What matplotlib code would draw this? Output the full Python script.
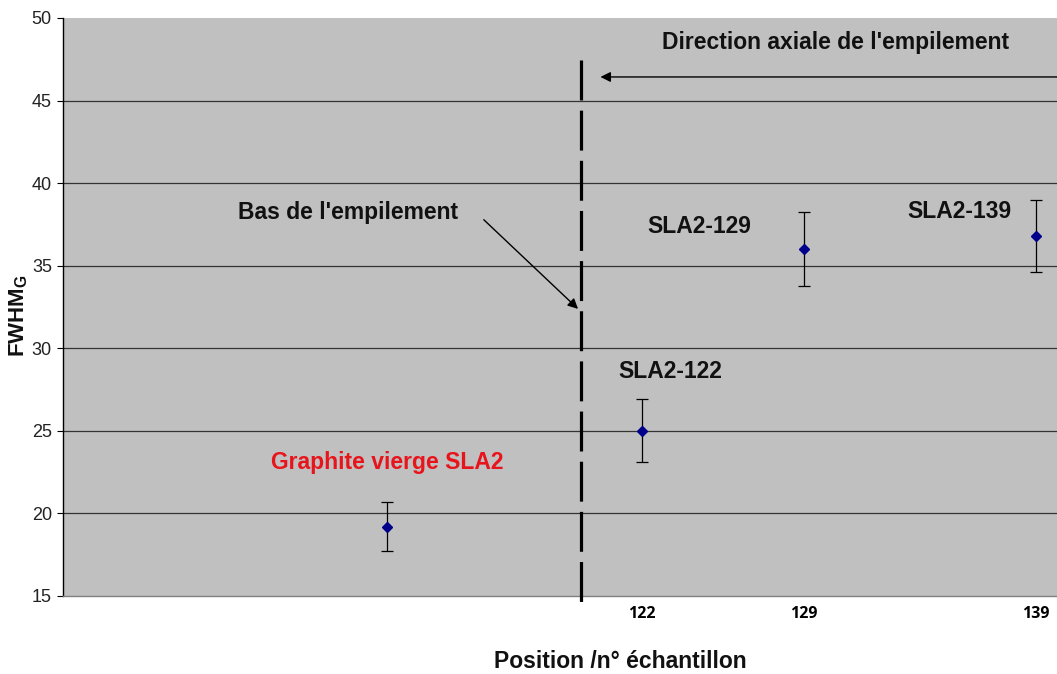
import matplotlib
matplotlib.use("Agg")
import matplotlib.pyplot as plt

# Data
labels = ['Graphite vierge SLA2', 'SLA2-122', 'SLA2-129', 'SLA2-139']
positions = [111, 122, 129, 139]
fwhm = [19.2, 25.0, 36.0, 36.8]
err = [1.5, 1.9, 2.25, 2.2]
xtick_vals = [122, 129, 139]
xtick_labels = ['122', '129', '139']
yticks = [15, 20, 25, 30, 35, 40, 45, 50]
boundary_x = 119.37

plt.rcParams['font.family'] = ['Liberation Sans', 'DejaVu Sans']
plt.rcParams['mathtext.fontset'] = 'custom'
plt.rcParams['mathtext.rm'] = 'Liberation Sans:bold'
plt.rcParams['mathtext.bf'] = 'Liberation Sans:bold'
plt.rcParams['mathtext.it'] = 'Liberation Sans:bold'

fig = plt.figure(figsize=(10.57, 6.74), dpi=100)
ax = fig.add_axes([63/1057, 1-596/674, 1-63/1057, (596-18)/674])
ax.set_facecolor('#C0C0C0')
ax.set_xlim(97.03, 139.92)
ax.set_ylim(15, 50)

for y in yticks[1:-1]:
    ax.axhline(y, color='#333333', lw=0.9, zorder=1)

ax.errorbar(positions, fwhm, yerr=err, fmt='D', color='#00008B', ms=5,
            ecolor='black', elinewidth=0.9, capsize=4, capthick=0.9, zorder=3)

# Dashed boundary line
ax.plot([boundary_x, boundary_x], [47.46, 14.51], color='black', lw=2.3,
        dashes=(12.5, 3.2), clip_on=False, zorder=4)

# Direction arrow
ax.annotate('', xy=(120.1, 46.43), xytext=(141.0, 46.43),
            arrowprops=dict(arrowstyle='-|>', color='black', lw=1.0,
                            mutation_scale=15), zorder=4)
ax.text(130.38, 48.49, "Direction axiale de l'empilement", ha='center', va='center',
        fontsize=16.5, fontweight='bold', color='#111111')

# Bas de l'empilement
ax.text(109.33, 38.25, "Bas de l'empilement", ha='center', va='center',
        fontsize=16.5, fontweight='bold', color='#111111')
ax.annotate('', xy=(119.34, 32.27), xytext=(115.1, 37.9),
            arrowprops=dict(arrowstyle='-|>', color='black', lw=1.0,
                            mutation_scale=15))

# Sample labels
label_pos = [(111.0, 23.11), (123.22, 28.62), (124.5, 37.4), (135.73, 38.31)]
label_cols = ['#E8141B', '#111111', '#111111', '#111111']
for lab, (lx, ly), c in zip(labels, label_pos, label_cols):
    ax.text(lx, ly, lab, ha='center', va='center', fontsize=16.5,
            fontweight='bold', color=c)

# Axes styling
for s in ['top', 'right']:
    ax.spines[s].set_visible(False)
ax.spines['left'].set_color('black')
ax.spines['left'].set_linewidth(1.0)
ax.spines['bottom'].set_color('#808080')
ax.spines['bottom'].set_linewidth(1.0)

ax.set_yticks(yticks)
ax.tick_params(axis='y', direction='out', length=4, width=0.8, labelsize=13,
               labelcolor='#222222', pad=4)
ax.set_xticks(xtick_vals)
ax.set_xticklabels(xtick_labels, fontweight='bold', fontsize=11.5, family='Open Sans')
ax.tick_params(axis='x', length=0, pad=7)

fig.text(19/1057, 1-316/674, r'FWHM$_\mathbf{G}$', rotation=90, ha='center', va='center',
         fontsize=16, fontweight='bold', color='#111111')
fig.text(620/1057, 1-661/674, 'Position /n° échantillon', ha='center', va='center',
         fontsize=16.5, fontweight='bold', color='#111111')

fig.savefig('out.png', dpi=100)
